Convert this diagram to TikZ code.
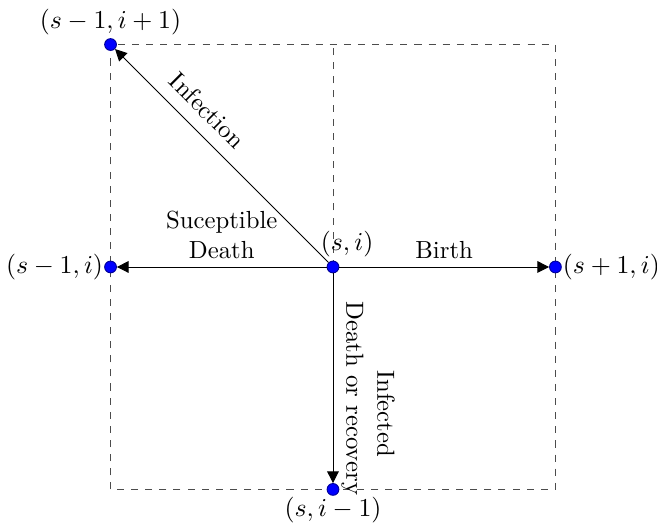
\documentclass[tikz,border=0pt]{standalone}
\usepackage{tikz}
\usetikzlibrary{arrows.meta,positioning}

\begin{document}
\begin{tikzpicture}[>={Triangle[length=5pt,width=5pt]},font=\fontsize{10.5pt}{12.7pt}\selectfont,
  dot/.style={circle,fill=blue,draw=blue!60!black,inner sep=0pt,minimum size=5pt},
  grid/.style={dashed,black!70},every label/.style={inner sep=0.3pt}]
\useasboundingbox (-4.97,-3.82) rectangle (4.836,3.985);
\draw[grid](-3.32,-3.32)rectangle(3.32,3.32);\draw[grid](0,0)--(0,3.32);
\node[dot,label={[xshift=6pt,yshift=1pt]above:{$(s,i)$}}](c)at(0,0){};
\node[dot,label={[yshift=1pt]above:{$(s-1,i+1)$}}](nw)at(-3.32,3.32){};
\node[dot,label={left:{$(s-1,i)$}}](w)at(-3.32,0){};
\node[dot,label={right:{$(s+1,i)$}}](e)at(3.32,0){};
\node[dot,label={below:{$(s,i-1)$}}](s)at(0,-3.32){};
\draw[->](c)--(nw)node[pos=.64,above=2pt,sloped]{Infection};
\draw[->](c)--(w)node[midway,above,align=center]{Suceptible\\Death};
\draw[->](c)--(e)node[midway,above]{Birth};
\draw[->](c)--(s);
\node[rotate=-90](dr)at(.29,-1.96){Death or recovery};
\node[rotate=-90](inf)at(.79,-2.19){Infected};
\end{tikzpicture}
\end{document}
